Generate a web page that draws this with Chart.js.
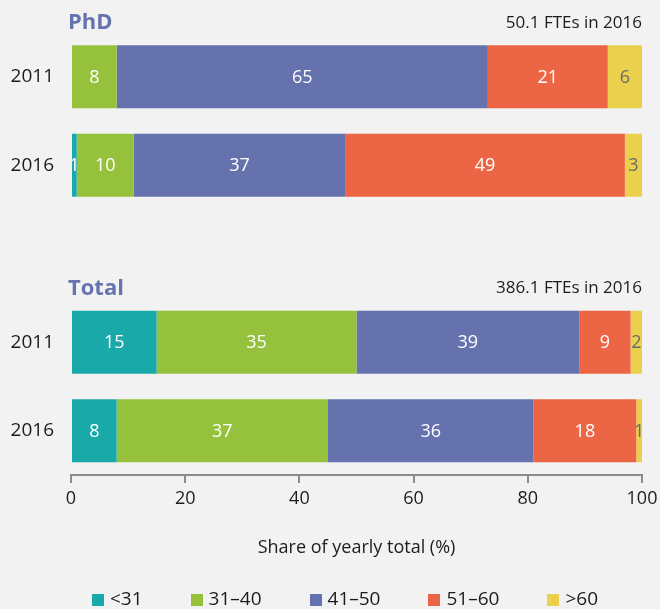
<!DOCTYPE html>
<html>
<head>
<meta charset="utf-8">
<script src="https://cdn.jsdelivr.net/npm/chart.js@4"></script>
<style>
  html, body { margin: 0; padding: 0; background: #f2f2f2; }
  #wrap { width: 660px; height: 609px; }
</style>
</head>
<body>
<div id="wrap"><canvas id="c" width="660" height="609"></canvas></div>
<script>
// Rows: PhD 2011, PhD 2016, (gap), Total 2011, Total 2016
const rowLabels = ['2011', '2016', '', '2011', '2016'];
const ageGroups = ['<31', '31–40', '41–50', '51–60', '>60'];
const under31   = [0, 1, null, 15, 8];
const age31to40 = [8, 10, null, 35, 37];
const age41to50 = [65, 37, null, 39, 36];
const age51to60 = [21, 49, null, 9, 18];
const over60    = [6, 3, null, 2, 1];
const panelTitles = ['PhD', 'Total'];
const panelNotes  = ['50.1 FTEs in 2016', '386.1 FTEs in 2016'];
const panelRows   = [0, 3];
const xTickValues = [0, 20, 40, 60, 80, 100];

const colors = ['#1aa9a9', '#96c13d', '#6572ae', '#ec6645', '#ebd04d'];
const labelColors = ['#ffffff', '#ffffff', '#ffffff', '#ffffff', '#6b6b6b'];
const FONT = "'Open Sans', 'Noto Sans', sans-serif";
const TEXT = '#1c1c1c';

const seriesValues = [under31, age31to40, age41to50, age51to60, over60];

const datasets = seriesValues.map((vals, i) => ({
  label: ageGroups[i],
  data: vals,
  backgroundColor: colors[i],
  borderWidth: 0,
  barPercentage: 0.712,
  categoryPercentage: 1.0
}));

// Background fill for the whole canvas
const backgroundPlugin = {
  id: 'bg',
  beforeDraw(chart) {
    const ctx = chart.ctx;
    ctx.save();
    ctx.fillStyle = '#f2f2f2';
    ctx.fillRect(0, 0, chart.width, chart.height);
    ctx.restore();
  }
};

// Value labels centred on each segment
const valueLabels = {
  id: 'valueLabels',
  afterDatasetsDraw(chart) {
    const ctx = chart.ctx;
    ctx.save();
    ctx.font = `18px ${FONT}`;
    ctx.textAlign = 'center';
    ctx.textBaseline = 'middle';
    chart.data.datasets.forEach((ds, di) => {
      const meta = chart.getDatasetMeta(di);
      meta.data.forEach((el, idx) => {
        const v = ds.data[idx];
        if (v === null || v === 0) return;
        const p = el.getCenterPoint();
        ctx.fillStyle = labelColors[di];
        ctx.fillText(String(v), p.x, p.y + 1);
      });
    });
    ctx.restore();
  }
};

// Panel headings and FTE notes above each pair of bars
const panelHeadings = {
  id: 'panelHeadings',
  afterDraw(chart) {
    const ctx = chart.ctx;
    const y = chart.scales.y;
    const area = chart.chartArea;
    ctx.save();
    ctx.textBaseline = 'middle';
    panelTitles.forEach((t, i) => {
      const yy = y.getPixelForValue(panelRows[i]) - 54;
      ctx.font = `bold 22px ${FONT}`;
      ctx.fillStyle = '#6673b1';
      ctx.textAlign = 'left';
      ctx.fillText(t, area.left - 3, yy);
      ctx.font = `17px ${FONT}`;
      ctx.fillStyle = TEXT;
      ctx.textAlign = 'right';
      ctx.fillText(panelNotes[i], area.right, yy);
    });
    ctx.restore();
  }
};

// Legend row along the bottom edge
const bottomLegend = {
  id: 'bottomLegend',
  afterDraw(chart) {
    const ctx = chart.ctx;
    ctx.save();
    ctx.font = `19px ${FONT}`;
    ctx.textBaseline = 'middle';
    ctx.textAlign = 'left';
    const box = 12, gapText = 6, gapItem = 48;
    const widths = ageGroups.map(g => box + gapText + ctx.measureText(g).width);
    const total = widths.reduce((a, b) => a + b, 0) + gapItem * (widths.length - 1);
    let x = 345 - total / 2;
    const yc = 600;
    ageGroups.forEach((g, i) => {
      ctx.fillStyle = colors[i];
      ctx.fillRect(Math.round(x), yc - 6, box, box);
      ctx.fillStyle = TEXT;
      ctx.fillText(g, x + box + gapText, yc);
      x += widths[i] + gapItem;
    });
    ctx.restore();
  }
};

new Chart(document.getElementById('c'), {
  type: 'bar',
  data: { labels: rowLabels, datasets },
  options: {
    indexAxis: 'y',
    responsive: false,
    animation: false,
    devicePixelRatio: 1,
    layout: { padding: { left: 0, right: 18, top: 32.5, bottom: 50 } },
    plugins: {
      legend: { display: false },
      tooltip: { enabled: false }
    },
    scales: {
      x: {
        stacked: true,
        min: 0,
        max: 100,
        afterBuildTicks(scale) {
          scale.ticks = xTickValues.map(v => ({ value: v }));
        },
        afterFit(scale) {
          scale.height = 84;
          scale.paddingLeft = 0;
          scale.paddingRight = 0;
        },
        grid: {
          drawOnChartArea: false,
          drawTicks: true,
          tickLength: 8,
          color: '#8c8c8c',
          lineWidth: 2
        },
        border: { display: true, color: '#8c8c8c', width: 2 },
        ticks: {
          padding: 5,
          color: TEXT,
          font: { family: FONT, size: 18 }
        },
        title: {
          display: true,
          text: 'Share of yearly total (%)',
          color: TEXT,
          font: { family: FONT, size: 18 },
          padding: { top: 0, bottom: 0 }
        }
      },
      y: {
        stacked: true,
        afterFit(scale) { scale.width = 71; },
        grid: { display: false, drawTicks: false },
        border: { display: false },
        ticks: {
          padding: 17,
          color: TEXT,
          font: { family: FONT, size: 19 }
        }
      }
    }
  },
  plugins: [backgroundPlugin, valueLabels, panelHeadings, bottomLegend]
});
</script>
</body>
</html>
